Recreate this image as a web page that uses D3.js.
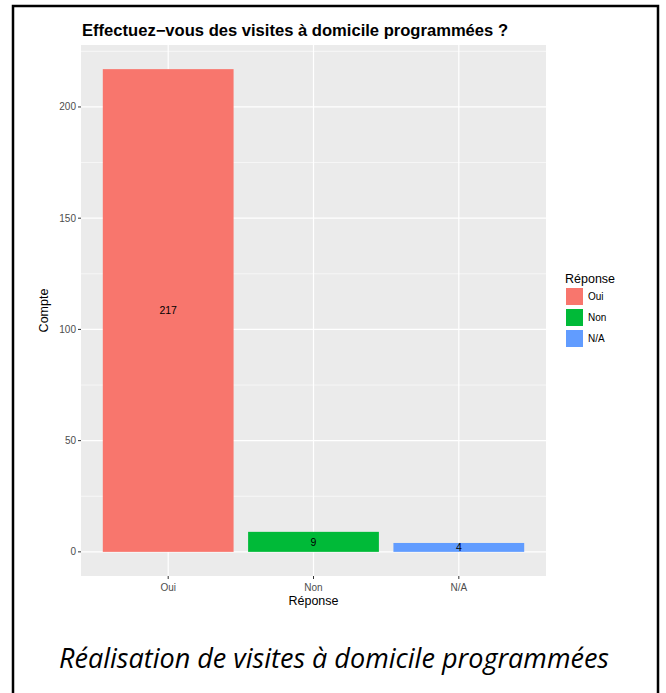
<!DOCTYPE html>
<html>
<head>
<meta charset="utf-8">
<script src="https://cdn.jsdelivr.net/npm/d3@7"></script>
<style>
  body { margin: 0; background: #fff; }
  text { font-family: "Liberation Sans", Arial, sans-serif; }
</style>
</head>
<body>
<script>
// data
let categories = ["Oui", "Non", "N/A"];
let counts = [217, 9, 4];
let colors = ["#F8766D", "#00BA38", "#619CFF"];
let yTicks = [0, 50, 100, 150, 200];
let yMinor = [25, 75, 125, 175, 225];

let w = 666, h = 693;
let svg = d3.select("body").append("svg")
  .attr("width", w).attr("height", h);

// frame around the figure
svg.append("path")
  .attr("d", "M13,700 V6 H658 V700")
  .attr("fill", "none").attr("stroke", "#000").attr("stroke-width", 2.5);

let panel = { x0: 81, x1: 546, y0: 45, y1: 576 };

// discrete axis: 0.4 .. 3.6 in ggplot units
let x = d3.scaleLinear().domain([0.4, 3.6]).range([panel.x0, panel.x1]);
let maxV = d3.max(counts);
let y = d3.scaleLinear().domain([-maxV * 0.05, maxV * 1.05]).range([panel.y1, panel.y0]);

svg.append("rect")
  .attr("x", panel.x0).attr("y", panel.y0)
  .attr("width", panel.x1 - panel.x0).attr("height", panel.y1 - panel.y0)
  .attr("fill", "#EBEBEB");

let g = svg.append("g");
g.selectAll(".minor").data(yMinor).enter().append("line")
  .attr("x1", panel.x0).attr("x2", panel.x1)
  .attr("y1", d => y(d)).attr("y2", d => y(d))
  .attr("stroke", "#fff").attr("stroke-width", 0.6);
g.selectAll(".major").data(yTicks).enter().append("line")
  .attr("x1", panel.x0).attr("x2", panel.x1)
  .attr("y1", d => y(d)).attr("y2", d => y(d))
  .attr("stroke", "#fff").attr("stroke-width", 1.2);
g.selectAll(".vmajor").data(categories).enter().append("line")
  .attr("x1", (d, i) => x(i + 1)).attr("x2", (d, i) => x(i + 1))
  .attr("y1", panel.y0).attr("y2", panel.y1)
  .attr("stroke", "#fff").attr("stroke-width", 1.2);

// bars
let bw = x(1.45) - x(0.55);
svg.selectAll(".bar").data(counts).enter().append("rect")
  .attr("x", (d, i) => x(i + 1) - bw / 2)
  .attr("y", d => y(d))
  .attr("width", bw)
  .attr("height", d => y(0) - y(d))
  .attr("fill", (d, i) => colors[i]);

svg.selectAll(".lbl").data(counts).enter().append("text")
  .attr("x", (d, i) => x(i + 1))
  .attr("y", d => y(d / 2))
  .attr("dy", "0.35em")
  .attr("text-anchor", "middle")
  .attr("font-size", 10.5)
  .attr("fill", "#000")
  .text(d => d);

// y axis
let ya = svg.append("g");
ya.selectAll("line").data(yTicks).enter().append("line")
  .attr("x1", panel.x0 - 3).attr("x2", panel.x0)
  .attr("y1", d => y(d)).attr("y2", d => y(d))
  .attr("stroke", "#333").attr("stroke-width", 1);
ya.selectAll("text").data(yTicks).enter().append("text")
  .attr("x", panel.x0 - 5).attr("y", d => y(d))
  .attr("dy", "0.35em").attr("text-anchor", "end")
  .attr("font-size", 10).attr("fill", "#4D4D4D")
  .text(d => d);

// x axis
let xa = svg.append("g");
xa.selectAll("line").data(categories).enter().append("line")
  .attr("x1", (d, i) => x(i + 1)).attr("x2", (d, i) => x(i + 1))
  .attr("y1", panel.y1).attr("y2", panel.y1 + 3)
  .attr("stroke", "#333").attr("stroke-width", 1);
xa.selectAll("text").data(categories).enter().append("text")
  .attr("x", (d, i) => x(i + 1)).attr("y", panel.y1 + 15)
  .attr("text-anchor", "middle")
  .attr("font-size", 10).attr("fill", "#4D4D4D")
  .text(d => d);

svg.append("text")
  .attr("x", (panel.x0 + panel.x1) / 2).attr("y", 605)
  .attr("text-anchor", "middle").attr("font-size", 12.5)
  .text("Réponse");

svg.append("text")
  .attr("transform", "translate(48," + ((panel.y0 + panel.y1) / 2) + ") rotate(-90)")
  .attr("text-anchor", "middle").attr("font-size", 12.5)
  .text("Compte");

// title
svg.append("text")
  .attr("x", 82).attr("y", 36)
  .attr("font-size", 16).attr("font-weight", "bold")
  .attr("textLength", 426).attr("lengthAdjust", "spacingAndGlyphs")
  .text("Effectuez\u2212vous des visites à domicile programmées ?");

// legend
let lg = svg.append("g").attr("transform", "translate(565,0)");
lg.append("text").attr("x", 0).attr("y", 283)
  .attr("font-size", 12.5).text("Réponse");
lg.selectAll("rect").data(categories).enter().append("rect")
  .attr("x", 1).attr("y", (d, i) => 288 + i * 21)
  .attr("width", 17).attr("height", 17)
  .attr("fill", (d, i) => colors[i]);
lg.selectAll(".lt").data(categories).enter().append("text")
  .attr("x", 23).attr("y", (d, i) => 288 + i * 21 + 8.5)
  .attr("dy", "0.35em").attr("font-size", 10)
  .text(d => d);

// caption
svg.append("text")
  .attr("x", 334).attr("y", 668)
  .attr("text-anchor", "middle")
  .attr("font-size", 27).attr("font-style", "italic")
  .style("font-family", "'Open Sans', sans-serif")
  .attr("textLength", 550).attr("lengthAdjust", "spacingAndGlyphs")
  .text("Réalisation de visites à domicile programmées");
</script>
</body>
</html>
